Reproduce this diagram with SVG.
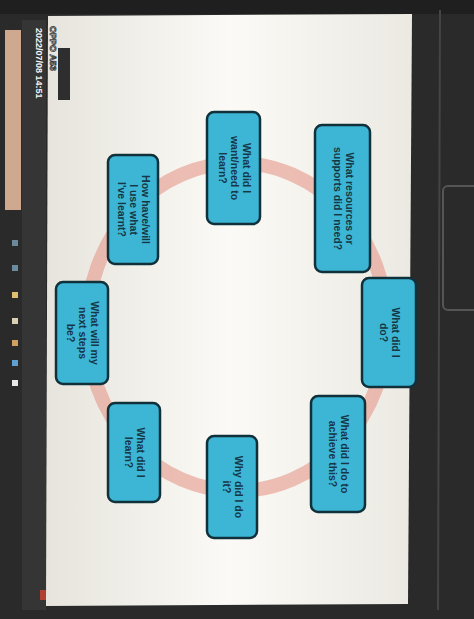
<svg xmlns="http://www.w3.org/2000/svg" width="474" height="619" viewBox="0 0 474 619">
<defs>
<style>
.box{fill:#3db6d6;stroke:#10303a;stroke-width:2.5}
.t{font-family:"Liberation Sans",Arial,sans-serif;font-size:10.5px;font-weight:bold;fill:#163846;text-anchor:middle}
.ts{font-family:"Liberation Sans",Arial,sans-serif;font-size:9px;font-weight:bold;fill:#f4f4f4}
</style>
<linearGradient id="scr" x1="0" y1="0" x2="1" y2="0">
<stop offset="0" stop-color="#e6e4dc"/>
<stop offset="0.5" stop-color="#fbfaf6"/>
<stop offset="1" stop-color="#ebe9e2"/>
</linearGradient>
</defs>
<rect x="0" y="0" width="474" height="619" fill="#2a2a2a"/>
<rect x="0" y="0" width="474" height="14" fill="#1f1f1f"/>
<!-- left strip -->
<rect x="5" y="30" width="16" height="180" fill="#cfa890"/>
<rect x="22" y="20" width="24" height="590" fill="#353535"/>
<rect x="12" y="240" width="6" height="6" fill="#6a8a9a"/>
<rect x="12" y="265" width="6" height="6" fill="#6a8aa0"/>
<rect x="12" y="292" width="6" height="6" fill="#e0c070"/>
<rect x="12" y="318" width="6" height="6" fill="#d8d0b0"/>
<rect x="12" y="340" width="6" height="6" fill="#d0a060"/>
<rect x="12" y="360" width="6" height="6" fill="#60a0d0"/>
<rect x="12" y="380" width="6" height="6" fill="#e8e8e8"/>
<rect x="40" y="590" width="10" height="10" fill="#b04030"/>
<!-- screen -->
<polygon points="48,16 412,14 408,604 46,606" fill="url(#scr)"/>
<rect x="58" y="48" width="12" height="52" fill="#2e2e2e"/>
<!-- right strip -->
<line x1="440" y1="10" x2="438" y2="610" stroke="#444" stroke-width="2"/>
<rect x="443" y="186" width="36" height="124" rx="5" fill="none" stroke="#555" stroke-width="2"/>
<text class="ts" transform="translate(36,28) rotate(90)">2022/07/08 14:51</text>
<text class="ts" transform="translate(50,26) rotate(90)" font-size="11" stroke="#333" stroke-width="0.8">OPPO A53</text>
<g id="connectors">
<ellipse cx="237" cy="327" rx="150" ry="164" fill="none" stroke="#e6988a" stroke-opacity="0.6" stroke-width="14"/>
</g>
<g id="n1">
<rect class="box" x="207" y="112" width="53" height="112" rx="7"/>
<text class="t" transform="translate(233.5,168) rotate(90)"><tspan x="0" y="-9">What did I</tspan><tspan x="0" y="3">want/need to</tspan><tspan x="0" y="15">learn?</tspan></text>
</g>
<g id="n2">
<rect class="box" x="315" y="125" width="55" height="147" rx="7"/>
<text class="t" transform="translate(342.5,198.5) rotate(90)"><tspan x="0" y="-3">What resources or</tspan><tspan x="0" y="9">supports did I need?</tspan></text>
</g>
<g id="n3">
<rect class="box" x="108" y="155" width="50" height="109" rx="7"/>
<text class="t" transform="translate(133,209.5) rotate(90)"><tspan x="0" y="-9">How have/will</tspan><tspan x="0" y="3">I use what</tspan><tspan x="0" y="15">I've learnt?</tspan></text>
</g>
<g id="n4">
<rect class="box" x="362" y="278" width="54" height="109" rx="7"/>
<text class="t" transform="translate(389,332.5) rotate(90)"><tspan x="0" y="-3">What did I</tspan><tspan x="0" y="9">do?</tspan></text>
</g>
<g id="n5">
<rect class="box" x="56" y="282" width="52" height="102" rx="7"/>
<text class="t" transform="translate(82,333) rotate(90)"><tspan x="0" y="-9">What will my</tspan><tspan x="0" y="3">next steps</tspan><tspan x="0" y="15">be?</tspan></text>
</g>
<g id="n6">
<rect class="box" x="311" y="396" width="54" height="116" rx="7"/>
<text class="t" transform="translate(338,454) rotate(90)"><tspan x="0" y="-3">What did I do to</tspan><tspan x="0" y="9">achieve this?</tspan></text>
</g>
<g id="n7">
<rect class="box" x="207" y="436" width="50" height="102" rx="7"/>
<text class="t" transform="translate(232,487) rotate(90)"><tspan x="0" y="-3">Why did I do</tspan><tspan x="0" y="9">it?</tspan></text>
</g>
<g id="n8">
<rect class="box" x="108" y="403" width="52" height="99" rx="7"/>
<text class="t" transform="translate(134,452.5) rotate(90)"><tspan x="0" y="-3">What did I</tspan><tspan x="0" y="9">learn?</tspan></text>
</g>
</svg>
